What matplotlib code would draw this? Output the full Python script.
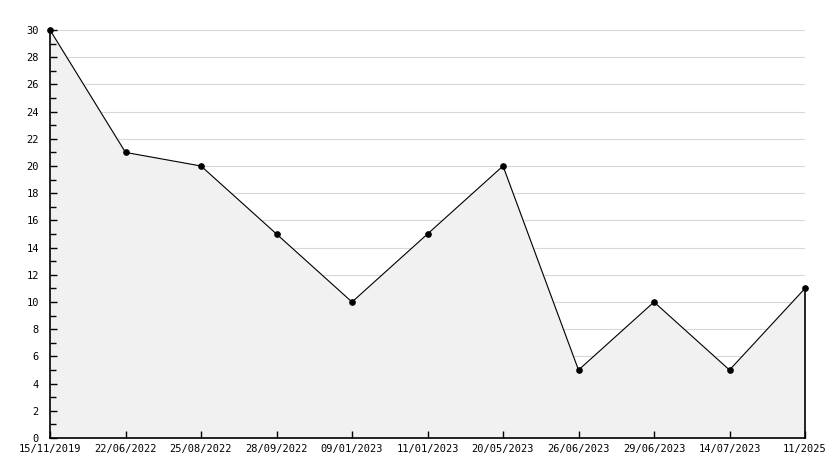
import matplotlib
matplotlib.use("Agg")
import matplotlib.pyplot as plt
from matplotlib.ticker import MultipleLocator

dates = ['15/11/2019', '22/06/2022', '25/08/2022', '28/09/2022', '09/01/2023',
         '11/01/2023', '20/05/2023', '26/06/2023', '29/06/2023', '14/07/2023',
         '11/2025']
values = [30, 21, 20, 15, 10, 15, 20, 5, 10, 5, 11]

fig = plt.figure(figsize=(8.34, 4.68), dpi=100)
ax = fig.add_axes([50 / 834, 30 / 468, 755 / 834, 408 / 468])

x = list(range(len(values)))
# grid drawn by hand so the fill covers it but not the ticks
for yv in range(2, 31, 2):
    ax.axhline(yv, color='#d8d8d8', lw=0.8, zorder=0.5)
ax.fill_between(x, values, 0, color='#f1f1f1', zorder=1)
ax.plot([x[-1], x[-1]], [0, values[-1]], color='black', lw=1.2, zorder=2,
        clip_on=False)
ax.plot(x, values, color='black', lw=0.8, marker='o', ms=3.8, zorder=3,
        clip_on=False)

ax.set_xlim(0, len(values) - 1)
ax.set_ylim(0, 30)
ax.yaxis.set_major_locator(MultipleLocator(2))
ax.yaxis.set_minor_locator(MultipleLocator(1))
ax.set_xticks(x)
ax.set_xticklabels(dates)
ax.set_axisbelow(False)

for s in ['top', 'right']:
    ax.spines[s].set_visible(False)
for s in ['left', 'bottom']:
    ax.spines[s].set_linewidth(1.2)

ax.tick_params(axis='both', direction='in', labelsize=7.5, width=1)
ax.tick_params(axis='y', which='major', length=5, pad=8)
ax.tick_params(axis='y', which='minor', length=4, width=1, direction='in')
ax.tick_params(axis='x', length=5, pad=4)
for lbl in ax.get_xticklabels() + ax.get_yticklabels():
    lbl.set_family('DejaVu Sans Mono')

fig.savefig('out.png', dpi=100)
